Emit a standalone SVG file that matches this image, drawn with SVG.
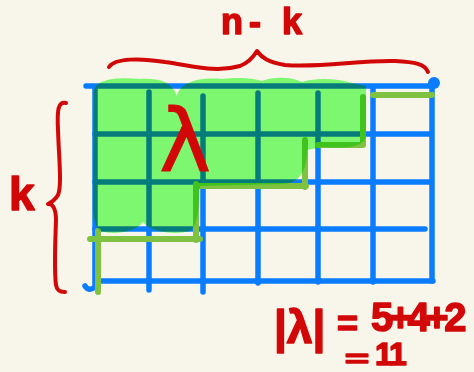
<svg xmlns="http://www.w3.org/2000/svg" width="474" height="372" viewBox="0 0 474 372">
<style>
.g{stroke:#0a7cff;stroke-width:5.5;stroke-linecap:round;fill:none}
.s{stroke:#7fc241;stroke-width:6;stroke-linecap:round;stroke-linejoin:round;fill:none}
.r{stroke:#d20808;stroke-width:4;stroke-linecap:round;stroke-linejoin:round;fill:none}
.t{fill:#d20808;stroke:#d20808;stroke-width:1.5;stroke-linejoin:round;font-family:"Liberation Sans",Arial,sans-serif;font-weight:bold}
</style>
<rect width="474" height="372" fill="#f8f6ea"/>
<g id="grid">
<path class="g" d="M86 86H433M95 134H431M95 182H431M95 229H425M100 281H433"/>
<path class="g" d="M95 88V286M149 92V290M203 96V292M258 93V283M318 93V282M373 89V282M432 86V281"/>
<path class="g" d="M85 286Q89 292 95 287"/>
<circle cx="434" cy="83" r="6" fill="#0a7cff"/>
</g>
<g id="staircase">
<path class="s" d="M98 292V231M90 239H200M196 240V184M197 186H306M305 187V140M318 145H363M363 145V97M373 95H432"/>
</g>
<g id="shape" style="mix-blend-mode:multiply">
<path fill="#81ff7a" d="M94 92C94 78 120 77 140 79C160 78 172 82 177 96C180 82 200 77 222 79C240 77 252 78 262 81C275 76 292 77 302 82C318 77 338 79 352 83L366 86L366 135C366 146 350 149 322 147L307 150C307 168 301 184 282 184L200 186C199 200 199 226 190 231C176 235 152 233 143 222C135 233 112 235 101 231C94 227 93 215 93 200Z"/>
</g>
<g id="braces">
<path class="r" d="M109 67C115 58 140 58 165 62C195 66 215 73 240 66C250 62 254 56 257 51C262 58 268 62 285 65C320 68 360 60 395 61C415 62 425 64 428 72"/>
<path class="r" d="M66 103C58 101 57 110 58 130C59 160 62 185 58 195C55 200 50 203 48 204C52 203 56 208 56 220C55 250 54 270 56 285C57 292 62 292 65 292"/>
</g>
<g id="labels">
<text class="t" font-size="36" x="221 249 270 282" y="34">n- k</text>
<text class="t" font-size="46" x="9" y="210">k</text>
<text class="t" font-size="88" x="159" y="171" style="font-family:'DejaVu Sans',sans-serif;font-weight:normal;stroke-width:1">λ</text>
<text class="t" font-size="46" x="274" y="343">|λ|</text>
<text class="t" font-size="36" x="337" y="336">=</text>
<text class="t" font-size="40" x="371" y="331" letter-spacing="-4.5">5+4+2</text>
<text class="t" font-size="24" x="345" y="367" textLength="24" lengthAdjust="spacingAndGlyphs">=</text>
<text class="t" font-size="32" x="375 389" y="365">11</text>
</g>
</svg>
